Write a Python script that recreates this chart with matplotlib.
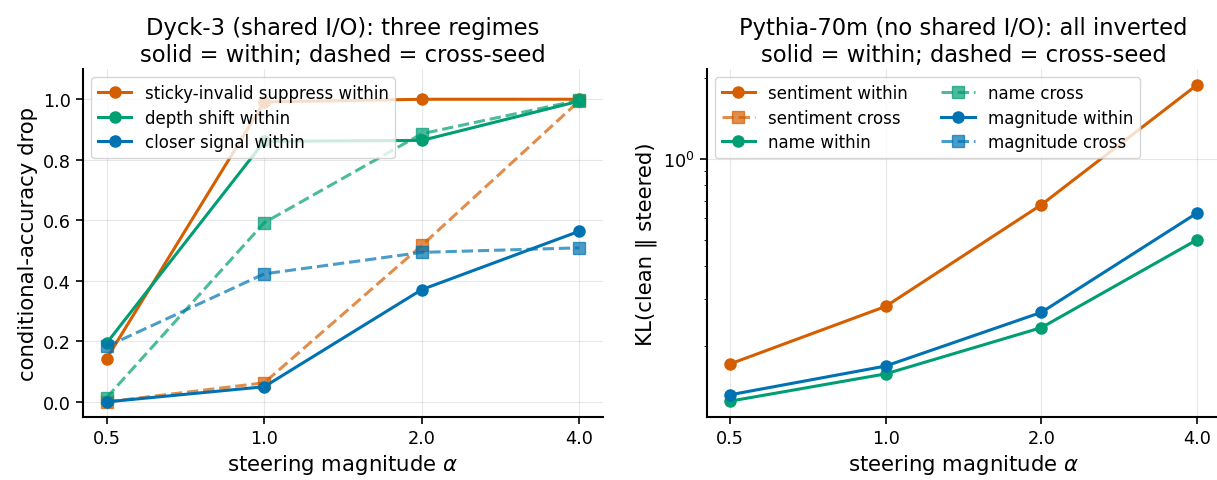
import numpy as np
import matplotlib
matplotlib.use("Agg")
import matplotlib.pyplot as plt

alphas = ["0.5", "1.0", "2.0", "4.0"]

# Left panel: Dyck-3 conditional-accuracy drop
dyck_names = ["sticky-invalid suppress", "depth shift", "closer signal"]
sticky_within = [0.143, 0.991, 1.0, 1.0]
sticky_cross = [0.0, 0.063, 0.517, 0.995]
depth_within = [0.194, 0.861, 0.864, 0.994]
depth_cross = [0.014, 0.592, 0.886, 0.997]
closer_within = [0.0, 0.050, 0.371, 0.564]
closer_cross = [0.183, 0.423, 0.494, 0.509]

# Right panel: Pythia-70m KL(clean || steered)
pythia_names = ["sentiment", "name", "magnitude"]
sentiment_within = [0.172, 0.282, 0.675, 1.89]
sentiment_cross = [np.nan, np.nan, np.nan, np.nan]
name_within = [0.125, 0.158, 0.235, 0.500]
name_cross = [np.nan, np.nan, np.nan, np.nan]
magnitude_within = [0.132, 0.169, 0.268, 0.629]
magnitude_cross = [np.nan, np.nan, np.nan, np.nan]

colors = ["#d55e00", "#009e73", "#0072b2"]

W, H = 1217, 481
fig = plt.figure(figsize=(W / 100, H / 100), dpi=100)
axL = fig.add_axes([83 / W, (H - 418) / H, 520 / W, (418 - 70) / H])
axR = fig.add_axes([706.5 / W, (H - 418) / H, 514 / W, (418 - 70) / H])

x = np.arange(len(alphas))
lw = 2.2
ms = 8

for name, w, c, col in zip(dyck_names,
                           [sticky_within, depth_within, closer_within],
                           [sticky_cross, depth_cross, closer_cross], colors):
    axL.plot(x, w, "-o", color=col, lw=lw, ms=ms, label=f"{name} within")
    axL.plot(x, c, "--s", color=col, lw=lw, ms=ms, alpha=0.7)

for name, w, c, col in zip(pythia_names,
                           [sentiment_within, name_within, magnitude_within],
                           [sentiment_cross, name_cross, magnitude_cross], colors):
    axR.plot(x, w, "-o", color=col, lw=lw, ms=ms, label=f"{name} within")
    axR.plot(x, c, "--s", color=col, lw=lw, ms=ms, alpha=0.7, label=f"{name} cross")

axR.set_yscale("log")
axL.set_ylim(-0.05, 1.1)

for ax in (axL, axR):
    ax.set_xticks(x)
    ax.set_xticklabels(alphas)
    ax.set_xlabel(r"steering magnitude $\alpha$", fontsize=15.3)
    ax.grid(True, alpha=0.3)
    ax.spines["top"].set_visible(False)
    ax.spines["right"].set_visible(False)
    ax.spines["left"].set_linewidth(1.5)
    ax.spines["bottom"].set_linewidth(1.5)
    ax.tick_params(labelsize=12.7, width=1.2, length=5)

axL.set_ylabel("conditional-accuracy drop", fontsize=15.3)
axR.set_ylabel("KL(clean ‖ steered)", fontsize=15.3)
axL.set_title("Dyck-3 (shared I/O): three regimes\nsolid = within; dashed = cross-seed", fontsize=16.3)
axR.set_title("Pythia-70m (no shared I/O): all inverted\nsolid = within; dashed = cross-seed", fontsize=16.3)

axL.legend(loc="upper left", fontsize=12, labelspacing=0.4)
axR.legend(loc="upper left", ncol=2, fontsize=12, labelspacing=0.4)

fig.savefig("out.png", dpi=100)
